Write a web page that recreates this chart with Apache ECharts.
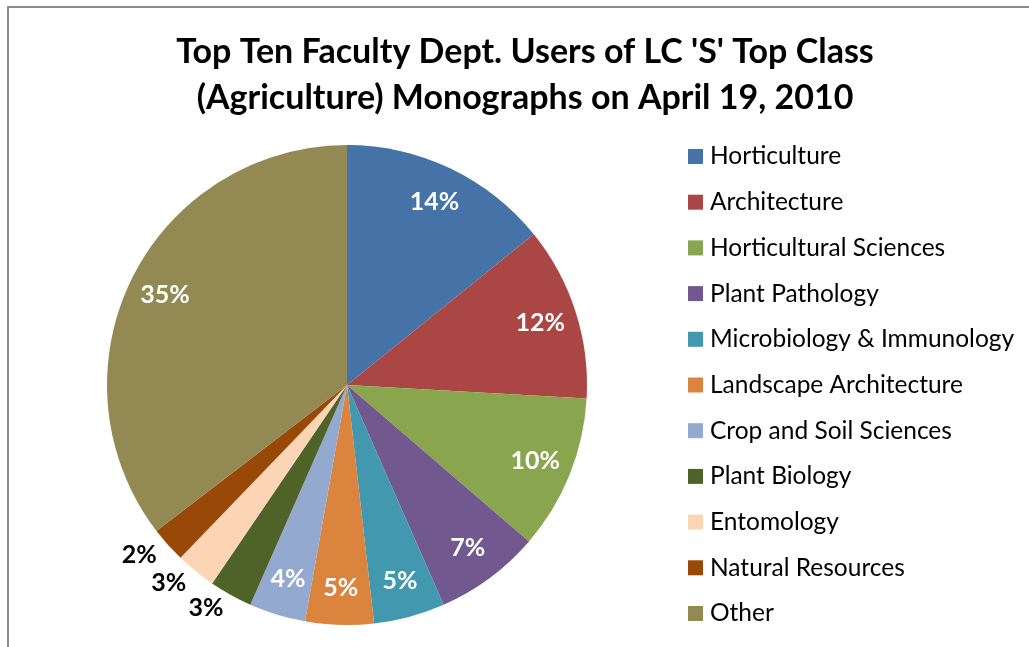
<!DOCTYPE html>
<html>
<head>
<meta charset="utf-8">
<script src="https://cdn.jsdelivr.net/npm/echarts@6/dist/echarts.min.js"></script>
<style>
  html, body { margin: 0; padding: 0; background: #fff; }
  #main { width: 1029px; height: 647px; }
</style>
</head>
<body>
<div id="main"></div>
<script>
  // departments, in legend / slice order
  var depts = ['Horticulture', 'Architecture', 'Horticultural Sciences', 'Plant Pathology',
    'Microbiology & Immunology', 'Landscape Architecture', 'Crop and Soil Sciences',
    'Plant Biology', 'Entomology', 'Natural Resources', 'Other']
  // share of use, percent
  var shares = [14.2, 11.7, 10.4, 7.1, 4.8, 4.6, 3.8, 2.9, 2.7, 2.4, 35.4]
  // slices whose label sits outside the pie
  var outsideNames = ['Plant Biology', 'Entomology', 'Natural Resources']

  var colors = ['#4572A7', '#AA4643', '#89A54E', '#71588F', '#4198AF', '#DB843D',
    '#93A9CF', '#4F6228', '#FCD5B5', '#984807', '#938953']

  var font = 'Lato'

  var pieData = depts.map(function (name, i) {
    return { name: name, value: shares[i], itemStyle: { color: colors[i] } }
  })

  // ghost ring only carries the labels, so inside labels sit near the rim
  var labelData = depts.map(function (name, i) {
    var out = outsideNames.indexOf(name) >= 0
    return {
      name: name,
      value: shares[i],
      label: out ? { position: 'outside', color: '#000' } : { position: 'inside', color: '#fff' }
    }
  })

  var chart = echarts.init(document.getElementById('main'))
  chart.setOption({
    animation: false,
    title: {
      text: "Top Ten Faculty Dept. Users of LC 'S' Top Class\n(Agriculture) Monographs on April 19, 2010",
      left: 525,
      top: 29,
      padding: 0,
      textAlign: 'center',
      textStyle: {
        fontFamily: font,
        fontWeight: 'bold',
        fontSize: 34,
        lineHeight: 46,
        color: '#000'
      }
    },
    legend: {
      orient: 'vertical',
      left: 688,
      top: 144,
      icon: 'rect',
      itemWidth: 15,
      itemHeight: 15,
      itemGap: 20.7,
      padding: 0,
      selectedMode: false,
      data: depts,
      textStyle: {
        fontFamily: font,
        fontSize: 24.5,
        lineHeight: 24,
        color: '#000',
        padding: [0, 0, 0, 2]
      }
    },
    graphic: [{
      type: 'rect',
      shape: { x: 8, y: 7, width: 1100, height: 700 },
      style: { fill: 'none', stroke: '#8c8c8c', lineWidth: 2 },
      silent: true
    }],
    series: [{
      name: 'Users',
      type: 'pie',
      center: [347, 385],
      radius: [0, 240],
      startAngle: 90,
      label: { show: false },
      labelLine: { show: false },
      emphasis: { disabled: true },
      data: pieData
    }, {
      name: 'labels',
      type: 'pie',
      center: [347, 385],
      radius: [160, 240],
      startAngle: 90,
      silent: true,
      avoidLabelOverlap: false,
      itemStyle: { color: 'rgba(0,0,0,0)' },
      emphasis: { disabled: true },
      label: {
        fontFamily: font,
        fontWeight: 'bold',
        fontSize: 25,
        distanceToLabelLine: 0,
        formatter: function (p) { return Math.round(p.percent) + '%' }
      },
      labelLine: { show: false, length: 15, length2: 0 },
      data: labelData
    }]
  })
</script>
</body>
</html>
